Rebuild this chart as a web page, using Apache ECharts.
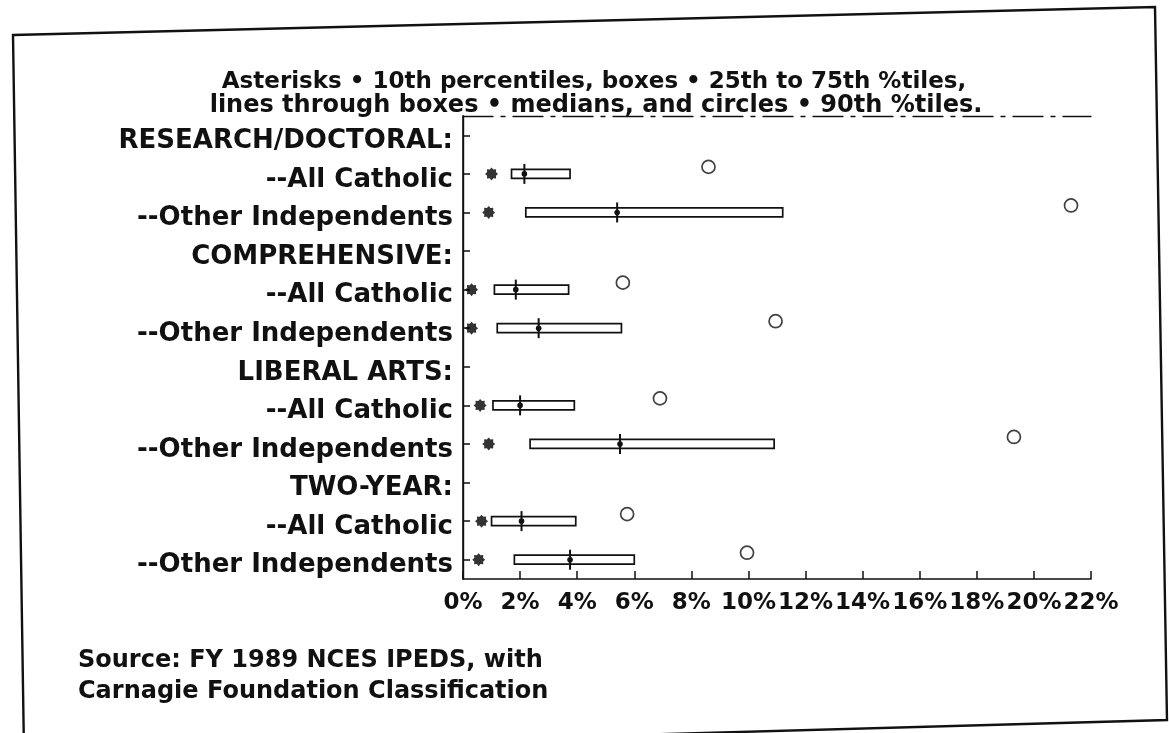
<!DOCTYPE html>
<html>
<head>
<meta charset="utf-8">
<script src="https://cdn.jsdelivr.net/npm/echarts@6/dist/echarts.min.js"></script>
<style>
  html, body { margin: 0; padding: 0; background: #fff; }
  #chart { width: 1169px; height: 733px; }
</style>
</head>
<body>
<div id="chart"></div>
<script>
// rows, top to bottom (headers carry no values)
const categories = [
  "RESEARCH/DOCTORAL:", "--All Catholic", "--Other Independents",
  "COMPREHENSIVE:", "--All Catholic", "--Other Independents",
  "LIBERAL ARTS:", "--All Catholic", "--Other Independents",
  "TWO-YEAR:", "--All Catholic", "--Other Independents"
];
// percent values
const p10    = [null, 1.0,  0.9,  null, 0.3,  0.3,   null, 0.6,  0.9,  null, 0.65, 0.55];
const p25    = [null, 1.7,  2.2,  null, 1.1,  1.2,   null, 1.05, 2.35, null, 1.0,  1.8];
const median = [null, 2.15, 5.4,  null, 1.85, 2.65,  null, 2.0,  5.5,  null, 2.05, 3.75];
const p75    = [null, 3.75, 11.2, null, 3.7,  5.55,  null, 3.9,  10.9, null, 3.95, 6.0];
const p90    = [null, 8.6,  21.3, null, 5.6,  10.95, null, 6.9,  19.3, null, 5.75, 9.95];

const xTicks = [0, 2, 4, 6, 8, 10, 12, 14, 16, 18, 20, 22];

const titleLines = [
  "Asterisks \u2022 10th percentiles, boxes \u2022 25th to 75th %tiles,",
  "lines through boxes \u2022 medians, and circles \u2022 90th %tiles."
];
const sourceLines = [
  "Source: FY 1989 NCES IPEDS, with",
  "Carnagie Foundation Classification"
];

const FONT = '"DejaVu Sans", Arial, sans-serif';
const INK = "#111";

// 8-point asterisk shape
function starPath(n, rOut, rIn) {
  let d = "";
  for (let i = 0; i < n * 2; i++) {
    const a = (i * Math.PI) / n - Math.PI / 2;
    const r = i % 2 ? rIn : rOut;
    d += (i ? "L" : "M") + (r * Math.cos(a)).toFixed(2) + " " + (r * Math.sin(a)).toFixed(2);
  }
  return "path://" + d + "Z";
}

const chart = echarts.init(document.getElementById("chart"));

const pointsOf = (arr) => arr.map((v, i) => (v == null ? null : [v, i])).filter(Boolean);
const boxData = categories
  .map((c, i) => (p25[i] == null ? null : [i, p25[i], median[i], p75[i]]))
  .filter(Boolean);

const textEl = (x, y, text, size, align) => ({
  type: "text",
  x: x,
  y: y,
  style: {
    text: text,
    fill: INK,
    font: "bold " + size + "px " + FONT,
    textAlign: align,
    textVerticalAlign: "middle"
  }
});

const option = {
  animation: false,
  backgroundColor: "#fff",
  textStyle: { fontFamily: FONT },
  grid: { left: 463, top: 116, width: 628, height: 463 },
  xAxis: [
    {
      type: "value",
      position: "bottom",
      min: xTicks[0],
      max: xTicks[xTicks.length - 1],
      interval: 2,
      splitLine: { show: false },
      axisLine: { show: true, lineStyle: { color: INK, width: 1.6 } },
      axisTick: { show: true, inside: true, length: 8, lineStyle: { color: INK, width: 1.5 } },
      axisLabel: {
        color: INK,
        fontFamily: FONT,
        fontWeight: "bold",
        fontSize: 23,
        margin: 13,
        formatter: (v) => v + "%"
      }
    },
    {
      type: "value",
      position: "top",
      min: xTicks[0],
      max: xTicks[xTicks.length - 1],
      axisLine: { show: true, lineStyle: { color: INK, width: 1.3, type: [30, 8, 4, 8] } },
      axisTick: { show: false },
      axisLabel: { show: false },
      splitLine: { show: false }
    }
  ],
  yAxis: [
    {
      type: "category",
      data: categories,
      inverse: true,
      axisLine: { show: true, lineStyle: { color: INK, width: 1.6 } },
      axisTick: { show: true, alignWithLabel: true, inside: true, length: 7, lineStyle: { color: INK, width: 1.5 } },
      axisLabel: {
        color: INK,
        fontFamily: FONT,
        fontWeight: "bold",
        fontSize: 26,
        margin: 10,
        verticalAlign: "top",
        lineHeight: 12
      },
      splitLine: { show: false }
    },
    {
      type: "category",
      data: categories,
      inverse: true,
      position: "right",
      axisLine: { show: true, lineStyle: { color: INK, width: 1.4 } },
      axisTick: { show: false },
      axisLabel: { show: false }
    }
  ],
  series: [
    {
      name: "25th to 75th",
      type: "custom",
      xAxisIndex: 0,
      yAxisIndex: 0,
      encode: { x: [1, 2, 3], y: 0 },
      data: boxData,
      renderItem: (params, api) => {
        const row = api.value(0);
        const lo = api.coord([api.value(1), row]);
        const md = api.coord([api.value(2), row]);
        const hi = api.coord([api.value(3), row]);
        return {
          type: "group",
          children: [
            {
              type: "rect",
              shape: { x: lo[0], y: lo[1] - 4.5, width: hi[0] - lo[0], height: 9 },
              style: { fill: "#fff", stroke: INK, lineWidth: 1.7 }
            },
            {
              type: "line",
              shape: { x1: md[0], y1: md[1] - 10, x2: md[0], y2: md[1] + 10 },
              style: { stroke: INK, lineWidth: 2 }
            },
            {
              type: "circle",
              shape: { cx: md[0], cy: md[1], r: 2.8 },
              style: { fill: INK }
            }
          ]
        };
      }
    },
    {
      name: "10th",
      type: "scatter",
      data: pointsOf(p10),
      symbol: starPath(8, 6, 4.4),
      symbolSize: 13,
      itemStyle: { color: "#000" }
    },
    {
      name: "90th",
      type: "scatter",
      data: pointsOf(p90),
      symbol: "circle",
      symbolSize: 13,
      symbolOffset: [0, -7],
      itemStyle: { color: "#fff", borderColor: INK, borderWidth: 1.7 }
    }
  ],
  graphic: [
    {
      type: "polygon",
      shape: { points: [[13, 35], [1155, 7], [1167, 720], [24, 752]] },
      style: { fill: "none", stroke: INK, lineWidth: 2.4 },
      z: -1
    },
    textEl(594, 82, titleLines[0], 23, "center"),
    textEl(596, 106, titleLines[1], 24, "center"),
    textEl(78, 661, sourceLines[0], 24, "left"),
    textEl(78, 692, sourceLines[1], 24, "left")
  ]
};

chart.setOption(option);
</script>
</body>
</html>
